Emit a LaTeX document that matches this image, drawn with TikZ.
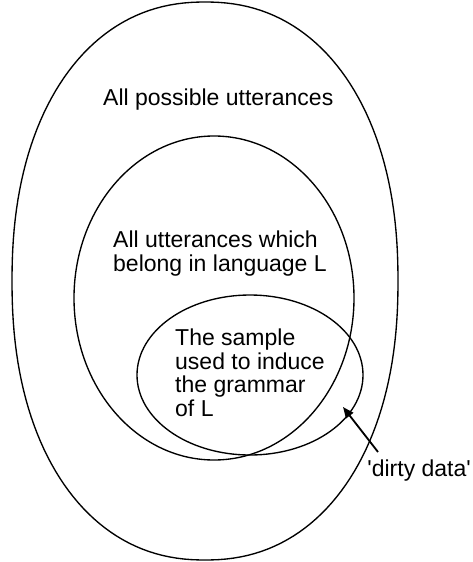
\documentclass[tikz,border=0pt]{standalone}
\usepackage{fontspec}
\setmainfont{Liberation Sans}
\usetikzlibrary{arrows.meta}
\begin{document}
\begin{tikzpicture}[x=1pt,y=-1pt,
  setline/.style={draw, line width=1.35pt, line join=round},
  label/.style={inner sep=0pt, font=\fontsize{23}{23.7}\selectfont, align=left},
  pointer/.style={line width=1.8pt, -{Triangle[length=11pt,width=9pt]}}]
\useasboundingbox (0,0) rectangle (472,562);

% all utterances: a slightly full oval
% x = cx + a cos t |cos t|^(2/n-1),  y = cy + b sin t |sin t|^(2/n-1)
\draw[setline] plot[domain=1:361, samples=181, variable=\t]
  ({205+193*cos(\t)*pow(abs(cos(\t)),-0.0909)},
   {281+279*sin(\t)*pow(abs(sin(\t)),-0.0909)}) -- cycle;
% language L and the sample
\draw[setline] (214,298) ellipse [x radius=140, y radius=162];
\draw[setline] (250,375) ellipse [x radius=113, y radius=80];

% set labels
\node[label, anchor=base west] (tall) at (103,105) {All possible utterances};
\node[label, anchor=north west] (tlang) at (113,230.5) {All utterances which\\belong in language L};
\node[label, anchor=north west] (tsample) at (175,328.5) {The sample\\used to induce\\the grammar\\of L};

% the part of the sample outside L
\node[label, anchor=base east] (dirty) at (471,476) {\textquotesingle dirty data\textquotesingle};
\coordinate (tail) at (378,452);
\coordinate (tip) at (343,407);
\draw[pointer] (tail) -- (tip);
\end{tikzpicture}
\end{document}
